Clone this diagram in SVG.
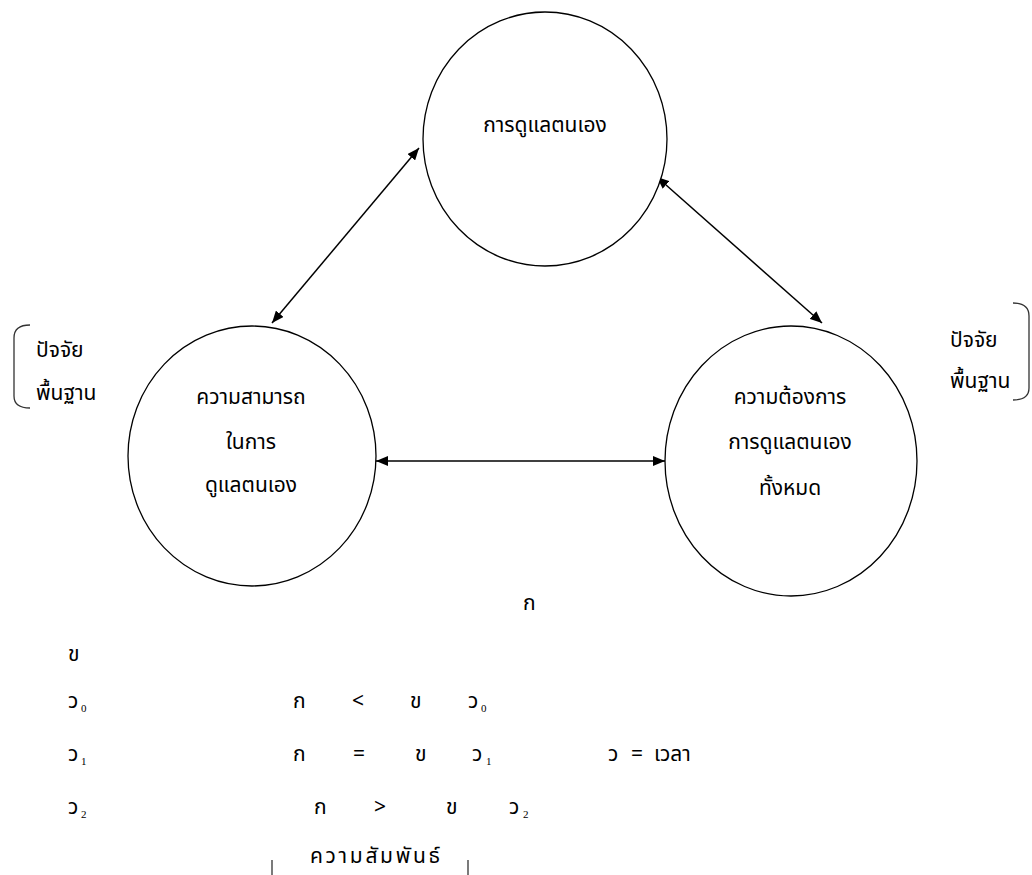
<svg xmlns="http://www.w3.org/2000/svg" width="1032" height="875" viewBox="0 0 1032 875">
<style>
.n{fill:#fff;stroke:#000;stroke-width:1.3}
.t{font-family:Tahoma,"Noto Sans Thai","Noto Sans",sans-serif;font-size:21px;fill:#000}
.m{text-anchor:middle}
.s{font-family:"Liberation Serif",serif;font-size:11px;fill:#000}
.c{stroke:#000;stroke-width:1.5;fill:none}
.b{stroke:#333;stroke-width:1.3;fill:none}
</style>
<defs>
<marker id="ah" viewBox="0 0 12 10" refX="12" refY="5" markerWidth="12" markerHeight="10" markerUnits="userSpaceOnUse" orient="auto-start-reverse">
<path d="M0,0 L12,5 L0,10 z" fill="#000"/>
</marker>
</defs>
<g id="connectors">
<line class="c" x1="272" y1="323" x2="419" y2="148" marker-start="url(#ah)" marker-end="url(#ah)"/>
<line class="c" x1="657" y1="177" x2="822" y2="323" marker-start="url(#ah)" marker-end="url(#ah)"/>
<line class="c" x1="376" y1="461" x2="665" y2="461" marker-start="url(#ah)" marker-end="url(#ah)"/>
</g>
<g id="node-top">
<ellipse class="n" cx="545" cy="139" rx="122" ry="127"/>
<text class="t m" x="545" y="132">การดูแลตนเอง</text>
</g>
<g id="node-left">
<ellipse class="n" cx="252" cy="456" rx="124" ry="130"/>
<text class="t m" x="251" y="404">ความสามารถ</text>
<text class="t m" x="251" y="449">ในการ</text>
<text class="t m" x="251" y="492">ดูแลตนเอง</text>
</g>
<g id="node-right">
<ellipse class="n" cx="791" cy="461" rx="126" ry="135"/>
<text class="t m" x="790" y="404">ความต้องการ</text>
<text class="t m" x="790" y="449">การดูแลตนเอง</text>
<text class="t m" x="790" y="495">ทั้งหมด</text>
</g>
<g id="factor-left">
<path class="b" d="M30,325 Q14,325 14,338 L14,396 Q14,408 30,408"/>
<text class="t" x="36" y="357">ปัจจัย</text>
<text class="t" x="36" y="400">พื้นฐาน</text>
</g>
<g id="factor-right">
<path class="b" d="M1013,303 Q1029,303 1029,316 L1029,388 Q1029,400 1013,400"/>
<text class="t" x="950" y="347">ปัจจัย</text>
<text class="t" x="950" y="388">พื้นฐาน</text>
</g>
<g id="legend">
<text class="t" x="523" y="610">ก</text>
<text class="t" x="68" y="661">ข</text>
<text class="t" x="68" y="708">ว</text><text class="s" x="81" y="712">0</text>
<text class="t" x="68" y="761">ว</text><text class="s" x="81" y="765">1</text>
<text class="t" x="68" y="814">ว</text><text class="s" x="81" y="818">2</text>
<text class="t" x="293" y="708">ก</text>
<text class="t" x="352" y="708">&lt;</text>
<text class="t" x="410" y="708">ข</text>
<text class="t" x="468" y="708">ว</text><text class="s" x="481" y="712">0</text>
<text class="t" x="293" y="761">ก</text>
<text class="t" x="353" y="761">=</text>
<text class="t" x="415" y="761">ข</text>
<text class="t" x="472" y="761">ว</text><text class="s" x="486" y="765">1</text>
<text class="t" x="608" y="761">ว</text>
<text class="t" x="631" y="761">=</text>
<text class="t" x="654" y="761">เวลา</text>
<text class="t" x="314" y="814">ก</text>
<text class="t" x="374" y="814">&gt;</text>
<text class="t" x="446" y="814">ข</text>
<text class="t" x="509" y="814">ว</text>
<text class="s" x="523" y="818">2</text>
<text class="t" x="310" y="863" textLength="130" lengthAdjust="spacing">ความสัมพันธ์</text>
<line class="b" x1="272" y1="860" x2="272" y2="875"/>
<line class="b" x1="468" y1="860" x2="468" y2="875"/>
</g>
</svg>
